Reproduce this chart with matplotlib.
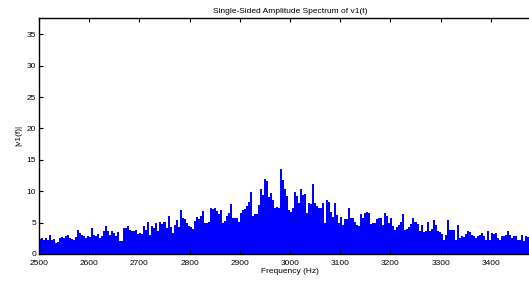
import matplotlib
matplotlib.use("Agg")
import matplotlib.pyplot as plt
import numpy as np

# |v1(f)|, one value per 4 Hz bin starting at 2500 Hz
amp_2500 = [2.4, 2.6, 2.2, 2.5, 2.3, 3.0, 2.2, 2.4, 1.8, 1.9, 2.5, 2.7, 2.6, 2.8,
            3.0, 2.5, 2.4, 2.2, 2.7, 3.8, 3.4, 3.1, 2.9, 2.6, 2.8, 2.7, 4.1, 3.0,
            2.8, 3.2, 2.6, 2.9, 3.6, 4.5, 3.7, 3.1, 3.6, 3.4, 2.9, 3.5, 2.1]
amp_2664 = [2.1, 4.1, 4.2, 4.5, 3.8, 3.7, 3.6, 3.9, 3.2, 3.4, 3.2, 4.5, 3.8, 5.1,
            3.0, 4.5, 4.1, 4.9, 3.7, 5.1, 4.8, 5.1, 4.1, 6.0, 4.3, 3.4, 4.6, 5.4,
            4.3, 7.0, 5.8, 5.6, 4.9, 4.5, 4.3, 4.0, 5.3, 5.9, 5.5, 6.0, 6.9]
amp_2828 = [5.0, 4.9, 5.1, 7.4, 7.1, 7.3, 6.9, 6.4, 7.0, 4.9, 5.3, 6.1, 6.6, 8.0,
            5.8, 5.8, 5.7, 5.1, 6.6, 7.0, 7.1, 7.6, 8.3, 9.8, 6.1, 6.4, 6.3, 7.8,
            10.3, 9.4, 12.0, 11.6, 9.1, 9.7, 8.6, 7.4, 7.5, 7.4, 13.6, 11.8, 10.3]
amp_2992 = [9.2, 7.0, 6.7, 7.4, 9.8, 9.2, 8.2, 10.3, 9.4, 9.5, 6.5, 8.2, 8.0, 11.1,
            8.2, 7.6, 7.3, 7.3, 8.1, 5.0, 8.6, 8.3, 6.7, 5.9, 8.2, 6.2, 5.0, 5.9,
            4.6, 5.6, 5.5, 7.4, 5.8, 5.7, 5.1, 4.6, 4.4, 6.4, 5.8, 6.6, 6.7]
amp_3156 = [6.5, 4.8, 5.0, 4.9, 5.5, 5.7, 5.8, 4.6, 6.6, 6.0, 4.9, 5.8, 4.5, 3.8,
            4.3, 4.6, 5.1, 6.4, 3.9, 4.0, 4.3, 4.8, 5.8, 5.1, 4.7, 3.7, 4.6, 3.5,
            3.7, 5.1, 3.7, 4.0, 5.4, 4.6, 3.7, 3.5, 3.2, 2.3, 3.0, 5.4, 3.8]
amp_3320 = [3.9, 3.8, 2.2, 4.6, 2.5, 2.9, 2.7, 3.2, 3.7, 3.5, 3.0, 2.9, 2.6, 2.9,
            3.0, 3.3, 2.9, 2.2, 3.7, 2.2, 3.4, 3.2, 3.3, 2.6, 2.2, 2.9, 2.8, 3.0,
            3.7, 3.0, 2.5, 2.8, 2.9, 2.3, 2.2, 3.0, 2.0, 2.9, 2.7, 3.0]

amp = np.array(amp_2500 + amp_2664 + amp_2828 + amp_2992 + amp_3156 + amp_3320)
f_start = 2500
f_step = 4
edges = f_start + f_step * np.arange(len(amp) + 1)

x_ticks = [2500, 2600, 2700, 2800, 2900, 3000, 3100, 3200, 3300, 3400]
y_ticks = [0, 5, 10, 15, 20, 25, 30, 35]

plt.rcParams['font.family'] = ['Liberation Sans', 'DejaVu Sans']
plt.rcParams['font.size'] = 6

fig = plt.figure(figsize=(5.29, 2.82), dpi=100)
ax = fig.add_axes([39 / 529, 28 / 282, 502 / 529, 236.5 / 282])

ax.stairs(amp, edges, fill=True, color='#0000ff', linewidth=0)

ax.set_xlim(2500, 3500)
ax.set_ylim(0, 37.66)
ax.set_xticks(x_ticks)
ax.set_yticks(y_ticks)
ax.tick_params(direction='in', length=3, width=0.8, labelsize=6,
               top=True, right=False)
ax.tick_params(axis='x', pad=4)
ax.tick_params(axis='y', pad=2)
for s in ['left', 'top', 'bottom']:
    ax.spines[s].set_linewidth(1.0)
ax.spines['right'].set_visible(False)

ax.set_title('Single-Sided Amplitude Spectrum of v1(t)', fontsize=6, pad=3)
ax.set_xlabel('Frequency (Hz)', fontsize=6, labelpad=1)
ax.set_ylabel('|v1(f)|', fontsize=6, labelpad=3)

fig.savefig('out.png', dpi=100)
